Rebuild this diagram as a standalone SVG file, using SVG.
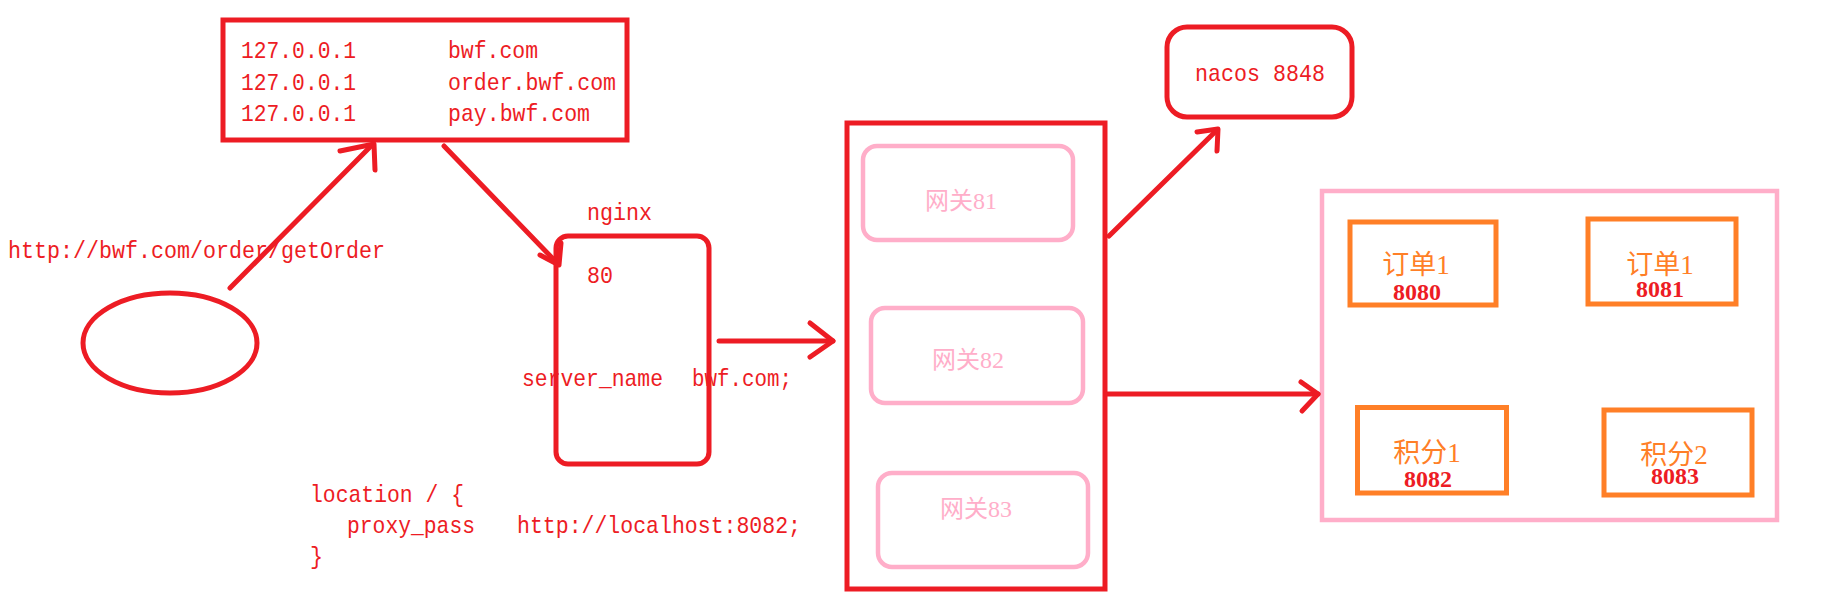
<svg xmlns="http://www.w3.org/2000/svg" width="1834" height="604" viewBox="0 0 1834 604">
<style>
.bg{fill:#ffffff}
.red{fill:none;stroke:#ED1C24;stroke-width:5}
.pink{fill:none;stroke:#FFAEC9;stroke-width:4.5}
.orange{fill:none;stroke:#FF7F27;stroke-width:5}
.conn{fill:none;stroke:#ED1C24;stroke-width:5;stroke-linecap:round;stroke-linejoin:round}
.code{font-family:"Liberation Mono","DejaVu Sans Mono",monospace;font-size:24px;fill:#ED1C24}
.gw{font-family:"Liberation Serif","Noto Sans CJK SC",serif;font-size:24px;fill:#FFAEC9;text-anchor:middle}
.svc{font-family:"Liberation Serif","Noto Sans CJK SC",serif;font-size:27px;fill:#FF7F27;text-anchor:middle}
.port{font-family:"Liberation Serif",serif;font-size:24px;font-weight:bold;fill:#ED1C24;text-anchor:middle}
</style>
<rect class="bg" x="0" y="0" width="1834" height="604"/>

<g id="client">
  <ellipse class="red" cx="170" cy="343" rx="87" ry="50"/>
</g>
<g id="url-label">
  <text class="code" x="8" y="258" textLength="377" lengthAdjust="spacingAndGlyphs">http://bwf.com/order/getOrder</text>
</g>

<g id="hosts">
  <rect class="red" x="223" y="20" width="404" height="120"/>
  <text class="code" x="241" y="58" textLength="115" lengthAdjust="spacingAndGlyphs">127.0.0.1</text>
  <text class="code" x="448" y="58" textLength="90" lengthAdjust="spacingAndGlyphs">bwf.com</text>
  <text class="code" x="241" y="90" textLength="115" lengthAdjust="spacingAndGlyphs">127.0.0.1</text>
  <text class="code" x="448" y="90" textLength="168" lengthAdjust="spacingAndGlyphs">order.bwf.com</text>
  <text class="code" x="241" y="121" textLength="115" lengthAdjust="spacingAndGlyphs">127.0.0.1</text>
  <text class="code" x="448" y="121" textLength="142" lengthAdjust="spacingAndGlyphs">pay.bwf.com</text>
</g>

<g id="nginx">
  <text class="code" x="587" y="220" textLength="65" lengthAdjust="spacingAndGlyphs">nginx</text>
  <rect class="red" x="556" y="236" width="153" height="228" rx="12"/>
  <text class="code" x="587" y="283" textLength="26" lengthAdjust="spacingAndGlyphs">80</text>
  <text class="code" x="522" y="386" textLength="141" lengthAdjust="spacingAndGlyphs">server_name</text>
  <text class="code" x="692" y="386" textLength="100" lengthAdjust="spacingAndGlyphs">bwf.com;</text>
</g>

<g id="nginx-config">
  <text class="code" x="310" y="502" textLength="154" lengthAdjust="spacingAndGlyphs">location / {</text>
  <text class="code" x="347" y="533" textLength="128" lengthAdjust="spacingAndGlyphs">proxy_pass</text>
  <text class="code" x="517" y="533" textLength="284" lengthAdjust="spacingAndGlyphs">http://localhost:8082;</text>
  <text class="code" x="310" y="564" textLength="13" lengthAdjust="spacingAndGlyphs">}</text>
</g>

<g id="gateway-cluster">
  <rect class="red" x="847" y="123" width="258" height="466"/>
</g>
<g id="gateway81">
  <rect class="pink" x="863" y="146" width="210" height="94" rx="14"/>
  <text class="gw" x="961" y="209">网关81</text>
</g>
<g id="gateway82">
  <rect class="pink" x="871" y="308" width="212" height="95" rx="14"/>
  <text class="gw" x="968" y="368">网关82</text>
</g>
<g id="gateway83">
  <rect class="pink" x="878" y="473" width="210" height="94" rx="14"/>
  <text class="gw" x="976" y="517">网关83</text>
</g>

<g id="nacos">
  <rect class="red" x="1167" y="27" width="185" height="90" rx="20"/>
  <text class="code" x="1195" y="81" textLength="130" lengthAdjust="spacingAndGlyphs">nacos 8848</text>
</g>

<g id="services">
  <rect class="pink" x="1322" y="191" width="455" height="329"/>
</g>
<g id="order1-8080">
  <rect class="orange" x="1350" y="222" width="146" height="83"/>
  <text class="svc" x="1416" y="274">订单1</text>
  <text class="port" x="1417" y="300">8080</text>
</g>
<g id="order1-8081">
  <rect class="orange" x="1588" y="219" width="148" height="85"/>
  <text class="svc" x="1660" y="274">订单1</text>
  <text class="port" x="1660" y="297">8081</text>
</g>
<g id="points1-8082">
  <rect class="orange" x="1357.5" y="407.5" width="149" height="85.5"/>
  <text class="svc" x="1427" y="462">积分1</text>
  <text class="port" x="1428" y="487">8082</text>
</g>
<g id="points2-8083">
  <rect class="orange" x="1604" y="410" width="148" height="85"/>
  <text class="svc" x="1674" y="464">积分2</text>
  <text class="port" x="1675" y="484">8083</text>
</g>

<g id="connectors">
  <line class="conn" x1="230" y1="288" x2="373" y2="144"/>
  <polyline class="conn" points="340,151 374,144 375,170"/>
  <line class="conn" x1="444" y1="146" x2="558" y2="264"/>
  <polyline class="conn" points="540,255 559,265 561,243"/>
  <line class="conn" x1="719" y1="341" x2="833" y2="341"/>
  <polyline class="conn" points="810,323 833,341 810,357"/>
  <line class="conn" x1="1109" y1="236" x2="1217" y2="130"/>
  <polyline class="conn" points="1197,132 1218,129 1217,151"/>
  <line class="conn" x1="1106" y1="394" x2="1318" y2="394"/>
  <polyline class="conn" points="1301,382 1318,394 1302,411"/>
</g>
</svg>
